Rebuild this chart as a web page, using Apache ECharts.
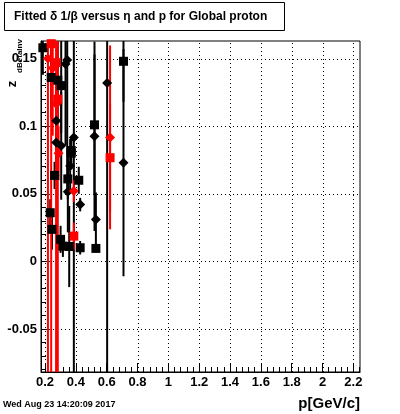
<!DOCTYPE html>
<html>
<head>
<meta charset="utf-8">
<script src="https://cdn.jsdelivr.net/npm/echarts@6/dist/echarts.min.js"></script>
<style>html,body{margin:0;padding:0;background:#fff}#c{width:400px;height:414px}</style>
</head>
<body>
<div id="c"></div>
<script>
// ---- tick labels ----
const xMajorTicks = [0.2, 0.4, 0.6, 0.8, 1.0, 1.2, 1.4, 1.6, 1.8, 2.0, 2.2];
const xTickLabels = ['0.2', '0.4', '0.6', '0.8', '1', '1.2', '1.4', '1.6', '1.8', '2', '2.2'];
const yMajorTicks = [-0.05, 0, 0.05, 0.1, 0.15];
const yTickLabels = ['-0.05', '0', '0.05', '0.1', '0.15'];

// ---- black squares ----
const blackSqP   = [0.186, 0.240, 0.283, 0.305, 0.370, 0.370, 0.348, 0.262, 0.419, 0.234, 0.245, 0.301, 0.316, 0.357, 0.428, 0.530, 0.521, 0.709];
const blackSqY   = [0.158, 0.136, 0.134, 0.130, 0.082, 0.080, 0.061, 0.0636, 0.060, 0.036, 0.0237, 0.0163, 0.0113, 0.011, 0.0101, 0.0096, 0.101, 0.148];
const blackSqErr = [0.020, 0.030, 0.030, 0.035, 0.010, 0.012, 0.015, 0.010, 0.010, 0.010, 0.015, 0.010, 0.008, 0.030, 0.005, 0.002, 0.052, 0.030];

// ---- black diamonds ----
const blackDiP   = [0.344, 0.333, 0.273, 0.273, 0.305, 0.387, 0.363, 0.348, 0.428, 0.521, 0.530, 0.603, 0.709];
const blackDiY   = [0.149, 0.146, 0.104, 0.088, 0.0856, 0.0917, 0.0705, 0.0515, 0.042, 0.0925, 0.031, 0.132, 0.073];
const blackDiErr = [0.100, 0.060, 0.030, 0.020, 0.040, 0.500, 0.020, 0.030, 0.005, 0.070, 0.020, 0.500, 0.084];

// ---- red squares ----
const redSqP   = [0.240, 0.273, 0.283, 0.387, 0.622];
const redSqY   = [0.161, 0.147, 0.120, 0.0187, 0.0767];
const redSqErr = [0.300, 0.300, 0.300, 0.010, 0.040];

// ---- red diamonds ----
const redDiP   = [0.219, 0.250, 0.273, 0.288, 0.387, 0.622];
const redDiY   = [0.150, 0.143, 0.1164, 0.080, 0.052, 0.0917];
const redDiErr = [0.300, 0.050, 0.300, 0.020, 0.008, 0.068];

const X_MIN = 0.174, X_MAX = 2.243, Y_MIN = -0.0818, Y_MAX = 0.163;

function subdivide(major, n, lo, hi) {
  const step = (major[1] - major[0]) / n;
  const out = [];
  const start = major[0] - Math.ceil((major[0] - lo) / step) * step;
  for (let v = start; v <= hi + 1e-9; v += step) out.push(+v.toFixed(6));
  return out.filter(v => v >= lo && v <= hi);
}
const xMinorTicks = subdivide(xMajorTicks, 5, X_MIN, X_MAX);
const yMinorTicks = subdivide(yMajorTicks, 5, Y_MIN, Y_MAX);

function zip(p, y, e) { return p.map((v, i) => [v, y[i], e[i]]); }

function errRender(color) {
  return function (params, api) {
    const p = api.value(0), y = api.value(1), e = api.value(2);
    const a = api.coord([p, y - e]), b = api.coord([p, y + e]);
    return { type: 'line', shape: { x1: a[0], y1: a[1], x2: b[0], y2: b[1] },
             style: { stroke: color, lineWidth: 2 } };
  };
}

const font = 'Liberation Sans, Arial, Helvetica, sans-serif';
const gridPos = { left: 41, right: 40, top: 41, bottom: 42 };

function labelFor(ticks, labels) {
  return v => { for (let i = 0; i < ticks.length; i++) if (Math.abs(ticks[i] - v) < 1e-6) return labels[i]; return ''; };
}

const chart = echarts.init(document.getElementById('c'), null, { renderer: 'canvas' });

function errSeries(data, color) {
  return { type: 'custom', xAxisIndex: 0, yAxisIndex: 0, clip: true, silent: true,
           encode: { x: 0, y: 1 }, renderItem: errRender(color), data: data };
}
function markSeries(data, color, sym, size) {
  return { type: 'scatter', xAxisIndex: 0, yAxisIndex: 0, clip: true, silent: true,
           symbol: sym, symbolSize: size, itemStyle: { color: color, opacity: 1 },
           data: data.map(d => [d[0], d[1]]) };
}
// dotted grid lines drawn through the axis scales
function gridSeries(vals, isX) {
  return { type: 'custom', xAxisIndex: 0, yAxisIndex: 0, clip: true, silent: true, z: 1,
           data: vals.map(v => [v]),
           encode: isX ? { x: 0 } : { y: 0 },
           renderItem: function (params, api) {
             const v = api.value(0);
             const a = isX ? api.coord([v, Y_MIN]) : api.coord([X_MIN, v]);
             const b = isX ? api.coord([v, Y_MAX]) : api.coord([X_MAX, v]);
             const x1 = Math.round(a[0]) + 0.5, y1 = Math.round(a[1]) + 0.5;
             return { type: 'line', shape: isX ? { x1: x1, y1: a[1], x2: x1, y2: b[1] } : { x1: a[0], y1: y1, x2: b[0], y2: y1 },
                      style: { stroke: '#000', lineWidth: 1, lineDash: [1, 3] } };
           } };
}

const bs = zip(blackSqP, blackSqY, blackSqErr);
const bd = zip(blackDiP, blackDiY, blackDiErr);
const rs = zip(redSqP, redSqY, redSqErr);
const rd = zip(redDiP, redDiY, redDiErr);

const option = {
  animation: false,
  backgroundColor: '#fff',
  grid: [
    Object.assign({ show: true, borderColor: '#000', borderWidth: 1, backgroundColor: 'transparent' }, gridPos),
    Object.assign({ show: false }, gridPos)
  ],
  xAxis: [
    { type: 'value', gridIndex: 0, min: X_MIN, max: X_MAX,
      axisLine: { show: true, onZero: false, lineStyle: { color: '#000', width: 1 } },
      axisTick: { show: true, inside: true, length: 9, customValues: xMajorTicks, lineStyle: { color: '#000' } },
      axisLabel: { show: true, customValues: xMajorTicks, formatter: labelFor(xMajorTicks, xTickLabels),
                   color: '#000', fontFamily: font, fontWeight: 'bold', fontSize: 13, margin: 4 },
      splitLine: { show: false } },
    { type: 'value', gridIndex: 1, min: X_MIN, max: X_MAX,
      axisLine: { show: false, onZero: false },
      axisTick: { show: true, inside: true, length: 5, customValues: xMinorTicks, lineStyle: { color: '#000' } },
      axisLabel: { show: false }, splitLine: { show: false } }
  ],
  yAxis: [
    { type: 'value', gridIndex: 0, min: Y_MIN, max: Y_MAX,
      axisLine: { show: true, onZero: false, lineStyle: { color: '#000', width: 1 } },
      axisTick: { show: true, inside: true, length: 9, customValues: yMajorTicks, lineStyle: { color: '#000' } },
      axisLabel: { show: true, customValues: yMajorTicks, formatter: labelFor(yMajorTicks, yTickLabels),
                   color: '#000', fontFamily: font, fontWeight: 'bold', fontSize: 13, margin: 4 },
      splitLine: { show: false } },
    { type: 'value', gridIndex: 1, min: Y_MIN, max: Y_MAX,
      axisLine: { show: false, onZero: false },
      axisTick: { show: true, inside: true, length: 5, customValues: yMinorTicks, lineStyle: { color: '#000' } },
      axisLabel: { show: false }, splitLine: { show: false } }
  ],
  series: [
    gridSeries(xMajorTicks, true),
    gridSeries(yMajorTicks, false),
    { type: 'scatter', xAxisIndex: 1, yAxisIndex: 1, data: [] },
    errSeries(bs, '#000'), markSeries(bs, '#000', 'rect', 9),
    errSeries(bd, '#000'), markSeries(bd, '#000', 'diamond', 10),
    errSeries(rs, '#ff0000'), markSeries(rs, '#ff0000', 'rect', 9),
    errSeries(rd, '#ff0000'), markSeries(rd, '#ff0000', 'diamond', 10)
  ],
  graphic: [
    { type: 'rect', shape: { x: 4.5, y: 2.5, width: 280, height: 28 },
      style: { fill: '#fff', stroke: '#000', lineWidth: 1 }, z: 100 },
    { type: 'text', x: 14, y: 17, z: 101,
      style: { text: 'Fitted \u03b4 1/\u03b2 versus \u03b7 and p for Global proton', fill: '#000',
               font: 'bold 12px ' + font, verticalAlign: 'middle', align: 'left' } },
    { type: 'text', x: 12, y: 84, rotation: Math.PI / 2, z: 101,
      style: { text: 'z', fill: '#000', font: 'bold 13px ' + font, align: 'center', verticalAlign: 'middle' } },
    { type: 'text', x: 20, y: 56, rotation: Math.PI / 2, z: 101,
      style: { text: 'dBetaInv', fill: '#000', font: 'bold 8px ' + font, align: 'center', verticalAlign: 'middle' } },
    { type: 'text', x: 360, y: 404, z: 101,
      style: { text: 'p[GeV/c]', fill: '#000', font: 'bold 15px ' + font, align: 'right', verticalAlign: 'middle' } },
    { type: 'text', x: 3, y: 405, z: 101,
      style: { text: 'Wed Aug 23 14:20:09 2017', fill: '#000', font: 'bold 9px ' + font, align: 'left', verticalAlign: 'middle' } }
  ]
};
chart.setOption(option);
</script>
</body>
</html>
